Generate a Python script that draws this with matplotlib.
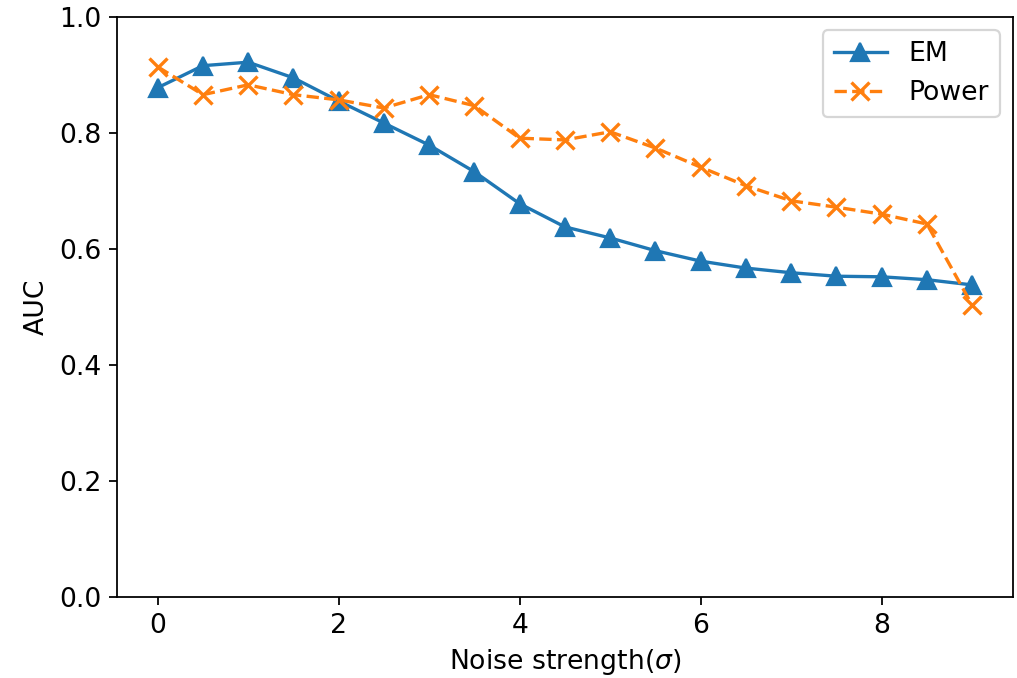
import numpy as np
import matplotlib
matplotlib.use("Agg")
import matplotlib.pyplot as plt

noise = [0, 0.5, 1, 1.5, 2, 2.5, 3, 3.5, 4, 4.5, 5, 5.5, 6, 6.5, 7, 7.5, 8, 8.5, 9]
auc_em = [0.878, 0.916, 0.922, 0.895, 0.855, 0.817, 0.779, 0.733, 0.678, 0.638,
          0.619, 0.597, 0.579, 0.567, 0.559, 0.553, 0.552, 0.547, 0.538]
auc_power = [0.914, 0.866, 0.883, 0.866, 0.857, 0.843, 0.866, 0.847, 0.791, 0.788,
             0.802, 0.774, 0.741, 0.709, 0.683, 0.672, 0.660, 0.643, 0.503]

plt.rcParams['font.size'] = 12

dpi = 160
fig = plt.figure(figsize=(1017 / dpi, 678 / dpi), dpi=dpi)
ax = fig.add_subplot(111)
fig.subplots_adjust(left=0.115, right=0.996, top=0.975, bottom=0.1195)

ax.plot(noise, auc_em, '-^', color='#1f77b4', linewidth=1.5, markersize=8, label='EM')
ax.plot(noise, auc_power, '--x', color='#ff7f0e', linewidth=1.5, markersize=8,
        markeredgewidth=1.5, label='Power')

ax.set_ylim(0, 1.0)
ax.set_xlabel(r"Noise strength($\sigma$)")
ax.set_ylabel("AUC")
ax.legend(loc='upper right')

fig.savefig("out.png", dpi=dpi)
